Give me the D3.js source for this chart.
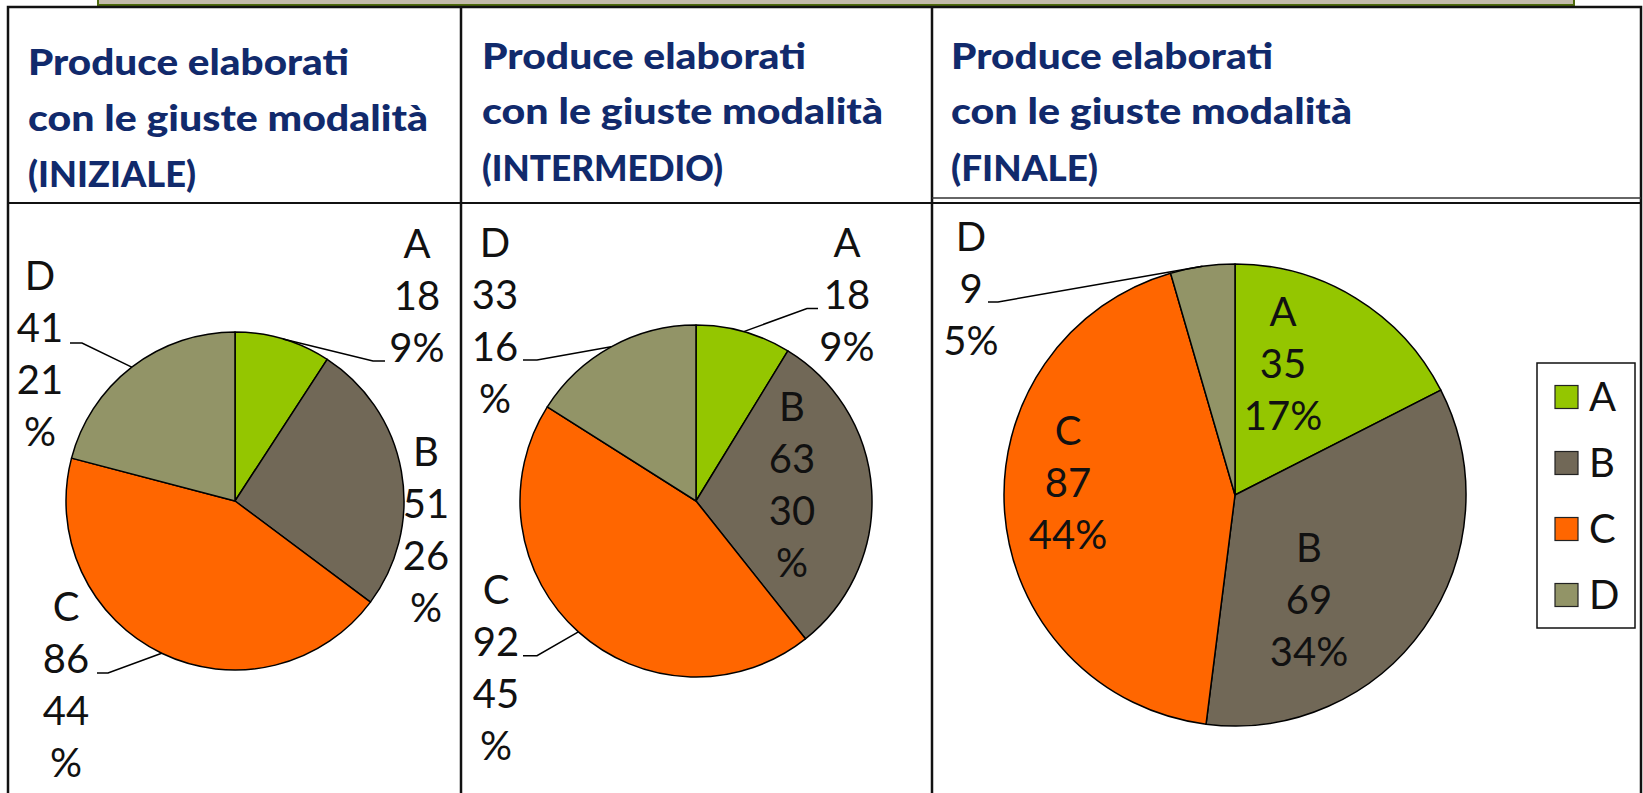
<!DOCTYPE html>
<html><head><meta charset="utf-8">
<script src="https://cdn.jsdelivr.net/npm/d3@7"></script>
<style>body{margin:0;background:#fff;overflow:hidden}svg{display:block}</style>
</head><body>
<svg id="chart" width="1643" height="793"></svg>
<script>
// ---- data ----
const categories = ["A", "B", "C", "D"];
const valuesIniziale = [18, 51, 86, 41];
const valuesIntermedio = [18, 63, 92, 33];
const valuesFinale = [35, 69, 87, 9];
const pctIniziale = [9, 26, 44, 21];
const pctIntermedio = [9, 30, 45, 16];
const pctFinale = [17, 34, 44, 5];
const titleLines = ["Produce elaborati", "con le giuste modalità"];
const phaseLabels = ["(INIZIALE)", "(INTERMEDIO)", "(FINALE)"];
const colors = ["#94c600", "#716857", "#ff6600", "#929467"];

// ---- layout (positions only) ----
const LINE = 52;
const panels = [
  { values: valuesIniziale, pct: pctIniziale, cx: 235, cy: 501, r: 169,
    titleX: 28, titleY: [75, 131, 187], titleW: [321, 400, 168],
    labels: [
      { x: 417, y: 243.5, wrap: false, leader: [373, 361, 385] },
      { x: 426, y: 451.5, wrap: true, leader: null },
      { x: 66, y: 607, wrap: true, leader: [108, 673, 97] },
      { x: 40, y: 276, wrap: true, leader: [82, 343, 70] }
    ] },
  { values: valuesIntermedio, pct: pctIntermedio, cx: 696, cy: 501, r: 176,
    titleX: 482, titleY: [69, 124, 181], titleW: [324, 401, 241],
    labels: [
      { x: 847, y: 242.5, wrap: false, leader: [807, 308.5, 818] },
      { x: 792, y: 407, wrap: true, leader: null },
      { x: 496, y: 590, wrap: true, leader: [537, 655.7, 523] },
      { x: 495, y: 242.5, wrap: true, leader: [537, 360, 523] }
    ] },
  { values: valuesFinale, pct: pctFinale, cx: 1235, cy: 495, r: 231,
    titleX: 951, titleY: [69, 124, 181], titleW: [322, 401, 147],
    labels: [
      { x: 1283, y: 311.6, wrap: false, leader: null },
      { x: 1309, y: 548, wrap: false, leader: null },
      { x: 1068, y: 431, wrap: false, leader: null },
      { x: 971, y: 237, wrap: false, leader: [998, 302, 988] }
    ] }
];

const svg = d3.select("#chart");
const labelFont = "Lato, 'DejaVu Sans', sans-serif";
const FS = 40;

// top decorative band
svg.append("rect").attr("x", 98).attr("y", -4).attr("width", 1476).attr("height", 9)
  .attr("fill", "#c3bbab").attr("stroke", "#4e6a0c").attr("stroke-width", 2);

// table frame
const frame = svg.append("g").attr("stroke", "#111").attr("fill", "none");
frame.append("path").attr("d", "M8,800 V7 H1641 V800").attr("stroke-width", 2.5);
[461, 932].forEach(x => frame.append("line").attr("x1", x).attr("x2", x).attr("y1", 7).attr("y2", 800).attr("stroke-width", 2.5));
frame.append("line").attr("x1", 8).attr("x2", 1641).attr("y1", 203).attr("y2", 203).attr("stroke-width", 2);
frame.append("line").attr("x1", 932).attr("x2", 1641).attr("y1", 198).attr("y2", 198).attr("stroke-width", 1.5).attr("stroke", "#333");

// titles
panels.forEach((p, i) => {
  const t = svg.append("text").attr("font-family", "Lato, sans-serif").attr("font-weight", 900)
    .attr("font-size", 36).attr("fill", "#112a6c");
  [titleLines[0], titleLines[1], phaseLabels[i]].forEach((s, k) => {
    t.append("tspan").attr("x", p.titleX).attr("y", p.titleY[k])
      .attr("textLength", p.titleW[k]).attr("lengthAdjust", "spacingAndGlyphs").text(s);
  });
});

// pies
const pie = d3.pie().sort(null).value(d => d);
panels.forEach(p => {
  const g = svg.append("g").attr("transform", `translate(${p.cx},${p.cy})`);
  const arcs = pie(p.values);
  const arc = d3.arc().innerRadius(0).outerRadius(p.r);
  const edge = d3.arc().innerRadius(p.r).outerRadius(p.r);
  g.selectAll("path.slice").data(arcs).join("path").attr("class", "slice")
    .attr("d", arc).attr("fill", (d, i) => colors[i])
    .attr("stroke", "#000").attr("stroke-width", 1.5).attr("stroke-linejoin", "round");

  arcs.forEach((a, i) => {
    const L = p.labels[i];
    if (L.leader) {
      const [mx, my] = edge.centroid(a);
      svg.append("polyline")
        .attr("points", `${p.cx + mx},${p.cy + my} ${L.leader[0]},${L.leader[1]} ${L.leader[2]},${L.leader[1]}`)
        .attr("fill", "none").attr("stroke", "#000").attr("stroke-width", 1.5);
    }
    const lines = L.wrap
      ? [categories[i], String(p.values[i]), String(p.pct[i]), "%"]
      : [categories[i], String(p.values[i]), p.pct[i] + "%"];
    const t = svg.append("text").attr("font-family", labelFont).attr("font-size", FS)
      .attr("fill", "#111").attr("text-anchor", "middle");
    lines.forEach((s, k) => {
      t.append("tspan").attr("x", L.x).attr("y", L.y + k * LINE + FS * 0.36).text(s);
    });
  });
});

// legend
const lg = svg.append("g");
lg.append("rect").attr("x", 1537).attr("y", 363).attr("width", 98).attr("height", 265)
  .attr("fill", "#fff").attr("stroke", "#111").attr("stroke-width", 1.5);
const ly = d3.scalePoint().domain(categories).range([397, 595]);
categories.forEach((c, i) => {
  lg.append("rect").attr("x", 1555).attr("y", ly(c) - 11.5).attr("width", 23).attr("height", 23)
    .attr("fill", colors[i]).attr("stroke", "#222").attr("stroke-width", 1.2);
  lg.append("text").attr("x", 1589).attr("y", ly(c) + FS * 0.36)
    .attr("font-family", labelFont).attr("font-size", FS).attr("fill", "#111").text(c);
});
</script>
</body></html>
